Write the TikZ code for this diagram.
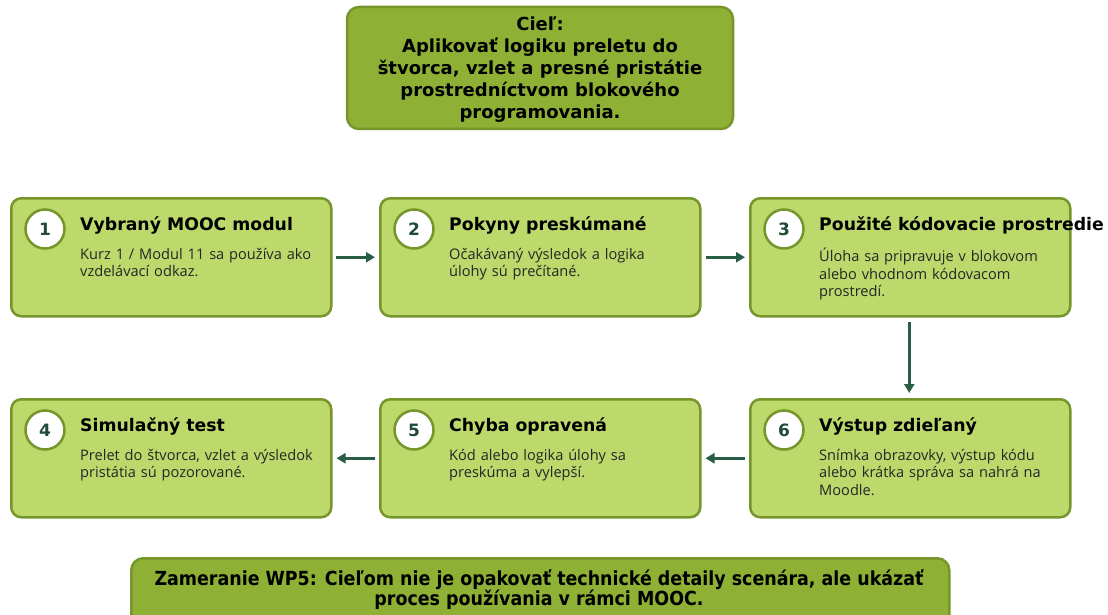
\documentclass[tikz,border=0pt]{standalone}
\usepackage{fontspec}
\setmainfont{Open Sans}
\newfontfamily\djb{DejaVu Sans}
\newfontfamily\djc{DejaVu Sans Condensed}
\usetikzlibrary{arrows.meta,calc}
\definecolor{topfill}{HTML}{8DB035}
\definecolor{stepfill}{HTML}{BDD86B}
\definecolor{bordc}{HTML}{76962C}
\definecolor{arrc}{HTML}{285E45}
\begin{document}
\begin{tikzpicture}[x=1pt,y=-1pt,
  stepbox/.style={draw=bordc,line width=2.5pt,fill=stepfill,rounded corners=10pt,minimum width=320pt,minimum height=118pt,anchor=north west},
  bigbox/.style={draw=bordc,line width=2.5pt,fill=topfill,rounded corners=12pt},
  numc/.style={circle,draw=bordc,line width=2.5pt,fill=white,minimum size=39pt,inner sep=0pt,font=\djb\bfseries\fontsize{17}{17}\selectfont,text=arrc!80!black},
  ttl/.style={anchor=west,inner sep=0pt,font=\djb\bfseries\fontsize{17.3}{20}\selectfont},
  bdy/.style={anchor=north west,inner sep=0pt,align=left,text width=260pt,font=\fontsize{14.6}{17.6}\selectfont,text=black!85},
  arr/.style={draw=arrc,line width=2.5pt,-{Triangle[length=9pt,width=10pt]}}]
\useasboundingbox (0,0) rectangle (1108,615);
\fill[white] (0,0) rectangle (1108,615);
% top box
\node[bigbox,minimum width=386pt,minimum height=122pt] (goal) at (540,68) {};
\node[align=center,inner sep=0pt,font=\djb\bfseries\fontsize{18}{22}\selectfont] (goaltxt) at (540,70) {Cieľ:\\Aplikovať logiku preletu do\\štvorca, vzlet a presné pristátie\\prostredníctvom blokového\\programovania.};
% step boxes
\node[stepbox] (s1) at (10,197) {};
\node[stepbox] (s2) at (379,197) {};
\node[stepbox] (s3) at (749,197) {};
\node[stepbox] (s4) at (10,398) {};
\node[stepbox] (s5) at (379,398) {};
\node[stepbox] (s6) at (749,398) {};
\foreach \b/\n/\t/\d in {
  s1/1/Vybraný MOOC modul/{Kurz 1 / Modul 11 sa používa ako\\vzdelávací odkaz.},
  s2/2/Pokyny preskúmané/{Očakávaný výsledok a logika\\úlohy sú prečítané.},
  s3/3/Použité kódovacie prostredie/{Úloha sa pripravuje v blokovom\\alebo vhodnom kódovacom\\prostredí.},
  s4/4/Simulačný test/{Prelet do štvorca, vzlet a výsledok\\pristátia sú pozorované.},
  s5/5/Chyba opravená/{Kód alebo logika úlohy sa\\preskúma a vylepší.},
  s6/6/Výstup zdieľaný/{Snímka obrazovky, výstup kódu\\alebo krátka správa sa nahrá na\\Moodle.}}{
  \node[numc] (\b c) at ($(\b.north west)+(35,32)$) {\n};
  \node[ttl] (\b t) at ($(\b.north west)+(70,28)$) {\t};
  \node[bdy] (\b d) at ($(\b.north west)+(70,51)$) {\d};
}
% arrows
\draw[arr] ($(s1.east)+(3,0)$) -- ($(s2.west)+(-4,0)$);
\draw[arr] ($(s2.east)+(4,0)$) -- ($(s3.west)+(-4,0)$);
\draw[arr] ($(s3.south)+(-1,4)$) -- ($(s6.north)+(-1,-5)$);
\draw[arr] ($(s6.west)+(-4,0)$) -- ($(s5.east)+(4,0)$);
\draw[arr] ($(s5.west)+(-4,0)$) -- ($(s4.east)+(4,0)$);
% bottom box
\node[bigbox,minimum width=818pt,minimum height=70pt,anchor=north west] (focus) at (130,557) {};
\node[align=center,inner sep=0pt,font=\djc\bfseries\fontsize{19.4}{20}\selectfont] (focustxt) at (539,590) {Zameranie WP5: Cieľom nie je opakovať technické detaily scenára, ale ukázať\\proces používania v rámci MOOC.};
\end{tikzpicture}
\end{document}
